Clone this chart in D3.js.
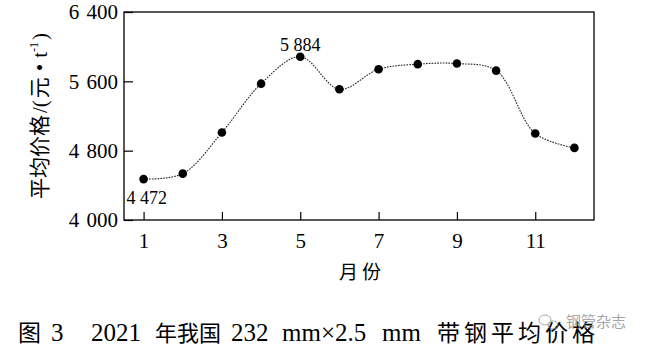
<html lang="zh">
	<head>
		<meta charset="utf-8">
		<title>带钢平均价格</title>
		<script src="https://d3js.org/d3.v7.min.js"></script>
		<style type="text/css">
			body {
				margin: 0;
				background-color: white;
			}
			text {
				font-family: "Liberation Serif", "Noto Sans CJK SC", serif;
				fill: black;
			}
		</style>
	</head>
	<body>
		<script type="text/javascript">

			//Data
			var months = [1, 2, 3, 4, 5, 6, 7, 8, 9, 10, 11, 12];
			var prices = [4472, 4535, 5010, 5573, 5884, 5508, 5740, 5798, 5805, 5724, 4998, 4832];
			var xTicks = [1, 3, 5, 7, 9, 11];
			var yTicks = [4000, 4800, 5600, 6400];
			var labelled = [[1, 4472], [5, 5884]];

			//Width and height
			var w = 650;
			var h = 349;
			var plotLeft = 124, plotTop = 12, plotRight = 594, plotBottom = 220;

			//"6400" -> "6 400"
			var fmt = function(v) {
				return String(v).replace(/(\d)(\d{3})$/, "$1 $2");
			};

			//Scales
			var xScale = d3.scaleLinear()
					.domain([0.5, 12.5])
					.range([plotLeft, plotRight]);

			var yScale = d3.scaleLinear()
					.domain([4000, 6400])
					.range([plotBottom, plotTop]);

			var svg = d3.select("body")
						.append("svg")
						.attr("width", w)
						.attr("height", h);

			//Axes with inward ticks
			var xAxis = d3.axisBottom(xScale)
							.tickValues(xTicks)
							.tickSizeInner(-8)
							.tickSizeOuter(0)
							.tickPadding(13);

			var yAxis = d3.axisLeft(yScale)
							.tickValues(yTicks)
							.tickSizeInner(-9)
							.tickSizeOuter(0)
							.tickPadding(6)
							.tickFormat(fmt);

			var gx = svg.append("g")
				.attr("transform", "translate(0," + plotBottom + ")")
				.call(xAxis);

			var gy = svg.append("g")
				.attr("transform", "translate(" + plotLeft + ",0)")
				.call(yAxis);

			[gx, gy].forEach(function(g) {
				g.select(".domain").remove();
				g.selectAll("line").attr("stroke", "black").attr("stroke-width", 1.2);
				g.selectAll("text")
					.attr("font-family", "Liberation Serif")
					.attr("font-size", "21px")
					.attr("word-spacing", "2px")
					.attr("fill", "black");
			});

			//Frame
			svg.append("rect")
				.attr("x", plotLeft)
				.attr("y", plotTop)
				.attr("width", plotRight - plotLeft)
				.attr("height", plotBottom - plotTop)
				.attr("fill", "none")
				.attr("stroke", "black")
				.attr("stroke-width", 1.3);

			//Smooth dotted line
			var line = d3.line()
				.x(function(d, i) { return xScale(months[i]); })
				.y(function(d) { return yScale(d); })
				.curve(d3.curveCatmullRom.alpha(0.5));

			svg.append("path")
				.datum(prices)
				.attr("d", line)
				.attr("fill", "none")
				.attr("stroke", "#222")
				.attr("stroke-width", 1.1)
				.attr("stroke-dasharray", "1.6,1.2");

			//Points
			svg.selectAll("circle")
				.data(prices)
				.enter()
				.append("circle")
				.attr("cx", function(d, i) { return xScale(months[i]); })
				.attr("cy", function(d) { return yScale(d); })
				.attr("r", 4.3)
				.attr("fill", "black");

			//Value labels
			svg.append("text")
				.attr("x", xScale(labelled[0][0]) - 17)
				.attr("y", yScale(labelled[0][1]) + 25)
				.attr("font-size", "18px")
				.text(fmt(labelled[0][1]));

			svg.append("text")
				.attr("x", xScale(labelled[1][0]))
				.attr("y", yScale(labelled[1][1]) - 6)
				.attr("text-anchor", "middle")
				.attr("font-size", "18px")
				.text(fmt(labelled[1][1]));

			//Axis titles
			svg.append("text")
				.attr("x", 362)
				.attr("y", 279)
				.attr("text-anchor", "middle")
				.attr("font-size", "19px")
				.attr("letter-spacing", "4px")
				.text("月份");

			var yt = svg.append("text")
				.attr("transform", "translate(47,116) rotate(-90)")
				.attr("text-anchor", "middle")
				.attr("font-size", "21px");
			yt.append("tspan").text("平均价格");
			yt.append("tspan").attr("dx", 2).text("/(");
			yt.append("tspan").attr("dx", 2).text("元");
			yt.append("tspan").attr("dx", 6).text("•");
			yt.append("tspan").attr("dx", 6).text("t");
			yt.append("tspan").attr("font-size", "12px").attr("dy", -9).text("-1");
			yt.append("tspan").attr("dy", 9).attr("dx", 2).text(")");

			//Caption, pieces placed like the typeset original
			var cap = svg.append("text")
				.attr("y", 341)
				.attr("font-size", "25px");
			cap.append("tspan").attr("x", 18).attr("font-size", "23px").text("图");
			cap.append("tspan").attr("x", 51).text("3");
			cap.append("tspan").attr("x", 91).text("2021");
			cap.append("tspan").attr("x", 155).attr("font-size", "22px").text("年我国");
			cap.append("tspan").attr("x", 231).text("232");
			cap.append("tspan").attr("x", 282).text("mm×2.5");
			cap.append("tspan").attr("x", 382).text("mm");
			cap.append("tspan").attr("x", 437).attr("font-size", "23px")
				.attr("letter-spacing", "4px").text("带钢平均价格");

			//Watermark
			var wm = svg.append("g").attr("opacity", 0.75);
			wm.append("ellipse").attr("cx", 545).attr("cy", 320).attr("rx", 6).attr("ry", 5)
				.attr("fill", "none").attr("stroke", "#888").attr("stroke-width", 1);
			wm.append("ellipse").attr("cx", 553).attr("cy", 325).attr("rx", 5).attr("ry", 4)
				.attr("fill", "none").attr("stroke", "#888").attr("stroke-width", 1);
			wm.append("text")
				.attr("x", 566)
				.attr("y", 327)
				.attr("font-family", "Noto Sans CJK SC")
				.attr("font-size", "15px")
				.attr("fill", "#888")
				.style("fill", "#888")
				.text("钢管杂志");

		</script>
	</body>
</html>
